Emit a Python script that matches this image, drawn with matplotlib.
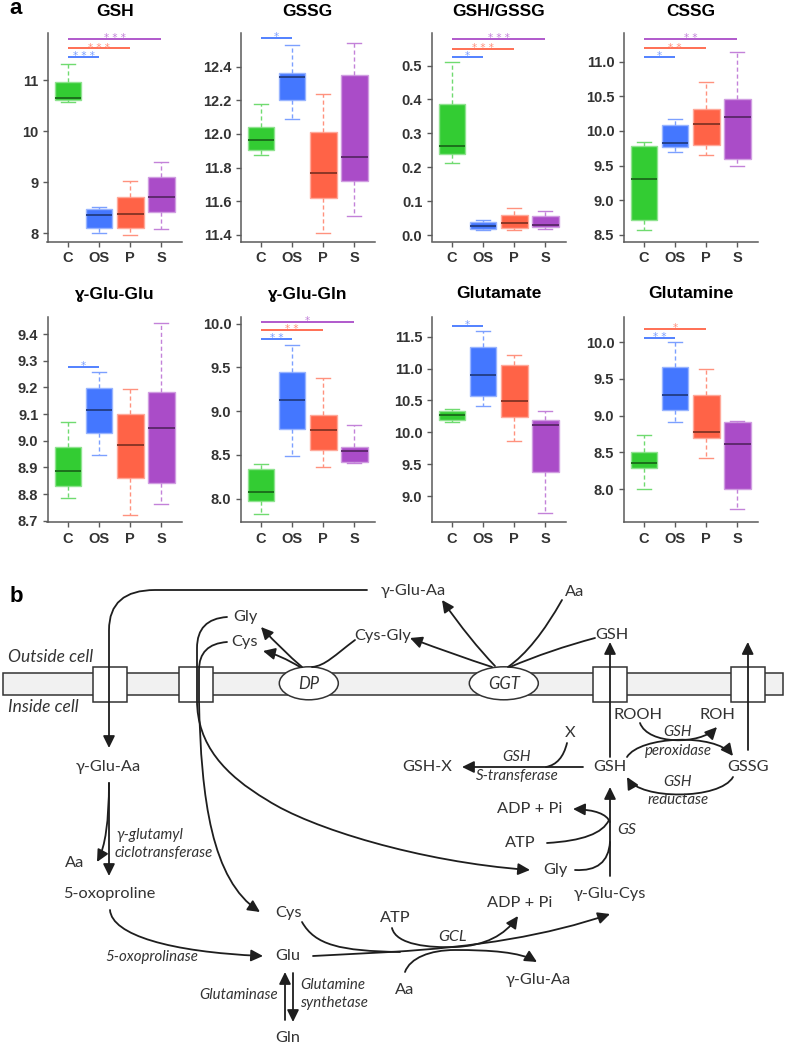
import matplotlib
matplotlib.use('Agg')
import matplotlib.pyplot as plt
import numpy as np
from matplotlib.colors import to_rgb
from matplotlib.path import Path
from matplotlib.patches import FancyArrowPatch, Ellipse, Rectangle, ArrowStyle

# ---------------- data (panel a) ----------------
panels = ['GSH', 'GSSG', 'GSH/GSSG', 'CSSG', 'ɣ-Glu-Glu', 'ɣ-Glu-Gln', 'Glutamate', 'Glutamine']
groups = ['C', 'OS', 'P', 'S']
group_colors = {'C': '#33CC33', 'OS': '#4477FF', 'P': '#FF6347', 'S': '#AA4CC8'}

whis_low = {
    'GSH': [10.57, 8.01, 7.97, 8.08],
    'GSSG': [11.875, 12.09, 11.41, 11.51],
    'GSH/GSSG': [0.2125, 0.016, 0.015, 0.019],
    'CSSG': [8.573, 9.694, 9.651, 9.501],
    'ɣ-Glu-Glu': [8.786, 8.948, 8.721, 8.762],
    'ɣ-Glu-Gln': [7.825, 8.49, 8.365, 8.403],
    'Glutamate': [10.16, 10.406, 9.86, 8.74],
    'Glutamine': [8.0, 8.919, 8.42, 7.724]}
q1 = {
    'GSH': [10.60, 8.11, 8.10, 8.41],
    'GSSG': [11.907, 12.20, 11.62, 11.72],
    'GSH/GSSG': [0.238, 0.019, 0.021, 0.024],
    'CSSG': [8.713, 9.767, 9.796, 9.598],
    'ɣ-Glu-Glu': [8.83, 9.028, 8.86, 8.84],
    'ɣ-Glu-Gln': [7.973, 8.80, 8.559, 8.414],
    'Glutamate': [10.20, 10.568, 10.234, 9.38],
    'Glutamine': [8.29, 9.077, 8.697, 8.0]}
median = {
    'GSH': [10.64, 8.35, 8.37, 8.71],
    'GSSG': [11.966, 12.34, 11.77, 11.86],
    'GSH/GSSG': [0.262, 0.027, 0.036, 0.030],
    'CSSG': [9.303, 9.82, 10.105, 10.207],
    'ɣ-Glu-Glu': [8.887, 9.116, 8.984, 9.046],
    'ɣ-Glu-Gln': [8.076, 9.133, 8.783, 8.548],
    'Glutamate': [10.27, 10.90, 10.495, 10.12],
    'Glutamine': [8.357, 9.28, 8.778, 8.62]}
q3 = {
    'GSH': [10.97, 8.47, 8.71, 9.11],
    'GSSG': [12.04, 12.36, 12.01, 12.35],
    'GSH/GSSG': [0.386, 0.039, 0.059, 0.057],
    'CSSG': [9.777, 10.081, 10.323, 10.463],
    'ɣ-Glu-Glu': [8.977, 9.198, 9.099, 9.183],
    'ɣ-Glu-Gln': [8.335, 9.445, 8.954, 8.589],
    'Glutamate': [10.33, 11.33, 11.047, 10.19],
    'Glutamine': [8.507, 9.66, 9.276, 8.91]}
whis_high = {
    'GSH': [11.31, 8.52, 9.02, 9.39],
    'GSSG': [12.18, 12.53, 12.235, 12.54],
    'GSH/GSSG': [0.511, 0.045, 0.079, 0.071],
    'CSSG': [9.835, 10.178, 10.715, 11.14],
    'ɣ-Glu-Glu': [9.071, 9.259, 9.192, 9.44],
    'ɣ-Glu-Gln': [8.395, 9.753, 9.376, 8.837],
    'Glutamate': [10.36, 11.594, 11.214, 10.339],
    'Glutamine': [8.733, 10.0, 9.633, 8.932]}

y_limits = {
    'GSH': (7.84, 11.92), 'GSSG': (11.36, 12.60), 'GSH/GSSG': (-0.019, 0.596),
    'CSSG': (8.403, 11.416), 'ɣ-Glu-Glu': (8.695, 9.465), 'ɣ-Glu-Gln': (7.734, 10.08),
    'Glutamate': (8.60, 11.81), 'Glutamine': (7.552, 10.348)}
y_ticks = {
    'GSH': [8, 9, 10, 11], 'GSSG': [11.4, 11.6, 11.8, 12.0, 12.2, 12.4],
    'GSH/GSSG': [0.0, 0.1, 0.2, 0.3, 0.4, 0.5], 'CSSG': [8.5, 9.0, 9.5, 10.0, 10.5, 11.0],
    'ɣ-Glu-Glu': [8.7, 8.8, 8.9, 9.0, 9.1, 9.2, 9.3, 9.4], 'ɣ-Glu-Gln': [8.0, 8.5, 9.0, 9.5, 10.0],
    'Glutamate': [9.0, 9.5, 10.0, 10.5, 11.0, 11.5], 'Glutamine': [8.0, 8.5, 9.0, 9.5, 10.0]}
tick_fmt = {'GSH': '{:.0f}'}

# significance bars: (group compared with C, bar level, stars)
sig_bars = {
    'GSH': [('OS', 11.455, '***'), ('P', 11.617, '***'), ('S', 11.799, '***')],
    'GSSG': [('OS', 12.569, '*')],
    'GSH/GSSG': [('OS', 0.526, '*'), ('P', 0.550, '***'), ('S', 0.578, '***')],
    'CSSG': [('OS', 11.073, '*'), ('P', 11.193, '**'), ('S', 11.329, '**')],
    'ɣ-Glu-Glu': [('OS', 9.277, '*')],
    'ɣ-Glu-Gln': [('OS', 9.821, '**'), ('P', 9.928, '**'), ('S', 10.023, '*')],
    'Glutamate': [('OS', 11.667, '*')],
    'Glutamine': [('OS', 10.063, '**'), ('P', 10.186, '*')]}

# ---------------- helpers ----------------
W, H = 787, 1047
SANS = ['Liberation Sans', 'DejaVu Sans']
DIA = ['Lato', 'DejaVu Sans']


def blend(c, f):
    r = np.array(to_rgb(c))
    return tuple(r + (1 - r) * f)


def darken(c, f):
    return tuple(np.array(to_rgb(c)) * f)


fig = plt.figure(figsize=(W / 100, H / 100), dpi=100)

# full-figure axes in pixel coordinates for panel b and labels
axb = fig.add_axes([0, 0, 1, 1])
axb.set_xlim(0, W)
axb.set_ylim(H, 0)
axb.axis('off')

# ---------------- panel a ----------------
lefts = [47.5, 240.5, 431.5, 623.5]
ax_w = 134.5
row_tops = [33.0, 316.7]
row_bottoms = [241.5, 522.0]
title_y = [11.5, 294.0]
SPINE = '#5a5a5a'

for i, name in enumerate(panels):
    row, col = divmod(i, 4)
    left = lefts[col]
    top, bottom = row_tops[row], row_bottoms[row]
    ax = fig.add_axes([left / W, 1 - bottom / H, ax_w / W, (bottom - top) / H])
    ax.patch.set_alpha(0)
    for j, g in enumerate(groups):
        c = group_colors[g]
        st = dict(whislo=whis_low[name][j], q1=q1[name][j], med=median[name][j],
                  q3=q3[name][j], whishi=whis_high[name][j], fliers=[])
        ax.bxp([st], positions=[j + 1], widths=0.85, capwidths=0.45, patch_artist=True,
               showfliers=False,
               boxprops=dict(facecolor=c, edgecolor=blend(c, 0.45), linewidth=1.0),
               whiskerprops=dict(color=blend(c, 0.3), linestyle=(0, (3, 2)), linewidth=1.0),
               capprops=dict(color=blend(c, 0.3), linewidth=1.0),
               medianprops=dict(color=darken(c, 0.55), linewidth=1.4))
    ax.set_xlim(0.34, 4.66)
    ax.set_ylim(*y_limits[name])
    ax.set_xticks(range(1, 5))
    ax.set_xticklabels(groups)
    ax.set_yticks(y_ticks[name])
    fmt = tick_fmt.get(name, '{:.1f}')
    ax.set_yticklabels([fmt.format(v) for v in y_ticks[name]])
    for s in ['top', 'right']:
        ax.spines[s].set_visible(False)
    for s in ['left', 'bottom']:
        ax.spines[s].set_color(SPINE)
        ax.spines[s].set_linewidth(1.1)
    ax.tick_params(length=3.6, width=1.0, color=SPINE, labelsize=10.5, labelcolor='#333333')
    ax.tick_params(axis='x', pad=3.5)
    ax.tick_params(axis='y', pad=3)
    for lab in ax.get_xticklabels() + ax.get_yticklabels():
        lab.set_fontfamily(SANS)
        lab.set_fontweight('bold')
    for g, yv, stars in sig_bars[name]:
        k = groups.index(g) + 1
        c = group_colors[g]
        ax.plot([1, k], [yv, yv], color=c, lw=1.3, clip_on=False, solid_capstyle='butt')
        ax.annotate(' '.join(stars), xy=((1 + k) / 2, yv), xytext=(0, -1.5),
                    textcoords='offset points', ha='center', va='baseline', fontsize=7.5,
                    color=blend(c, 0.3), annotation_clip=False, family='DejaVu Sans')
    fig.text((left + ax_w / 2) / W, 1 - title_y[row] / H, name, ha='center', va='center',
             fontsize=12.5, fontweight='bold', family=SANS)

axb.text(16, 9, 'a', ha='center', va='center', fontsize=16, fontweight='bold', family=SANS)
axb.text(16.5, 596, 'b', ha='center', va='center', fontsize=16, fontweight='bold', family=SANS)

# ---------------- panel b: pathway diagram ----------------
LINE = '#1e1e1e'
TXT = '#333333'
EDGE = '#333333'

axb.add_patch(Rectangle((3, 673.3), 780.3, 21.7, fc='#F1F1F1', ec=EDGE, lw=1.1, zorder=1))
for x0 in [92.7, 179.3, 593.3, 730.7]:
    axb.add_patch(Rectangle((x0, 666.7), 34, 35, fc='white', ec=EDGE, lw=1.1, zorder=2))
axb.add_patch(Ellipse((308.8, 683.3), 59, 33, fc='white', ec=EDGE, lw=1.1, zorder=2))
axb.add_patch(Ellipse((503.8, 683.3), 69, 33, fc='white', ec=EDGE, lw=1.1, zorder=2))

M, L, C3, C4 = Path.MOVETO, Path.LINETO, Path.CURVE3, Path.CURVE4
HEAD = ArrowStyle('-|>', head_length=0.55, head_width=0.27)


def draw_path(segs, arrow=True):
    verts, codes = [], []
    for code, pts in segs:
        for p in pts:
            verts.append(p)
            codes.append(code)
    p = FancyArrowPatch(path=Path(verts, codes), arrowstyle=HEAD if arrow else '-',
                        mutation_scale=13, lw=1.3, color=LINE, shrinkA=0, shrinkB=0, zorder=3)
    axb.add_patch(p)


curves = [
    ([(M, [(367, 590)]), (L, [(155, 590)]), (C3, [(109, 590), (109, 630)]), (L, [(109, 748)])], True),
    ([(M, [(227, 617)]), (C3, [(197, 619), (197, 648)]), (L, [(197, 700)]),
      (C4, [(197, 745), (225, 775), (267, 800)]), (C4, [(310, 828), (420, 862), (530, 870)])], True),
    ([(M, [(227, 642)]), (C3, [(199, 644), (199, 670)]), (L, [(199, 700)]),
      (C4, [(201, 800), (212, 880), (260, 912)])], True),
    ([(M, [(355, 640)]), (C4, [(335, 655), (325, 666), (312, 667)])], False),
    ([(M, [(302, 667)]), (C3, [(282, 650), (261, 627)])], True),
    ([(M, [(300, 667)]), (C3, [(280, 655), (263, 651)])], True),
    ([(M, [(495, 666)]), (C3, [(470, 640), (442, 600)])], True),
    ([(M, [(492, 667)]), (C3, [(455, 655), (410, 638)])], True),
    ([(M, [(562, 600)]), (C3, [(535, 648), (508, 667)])], False),
    ([(M, [(595, 638)]), (C3, [(550, 650), (510, 667)])], False),
    ([(M, [(610, 757)]), (L, [(610, 642)])], True),
    ([(M, [(747.7, 750)]), (L, [(747.7, 642)])], True),
    ([(M, [(640, 723)]), (C4, [(648, 745), (700, 745), (717, 727)])], True),
    ([(M, [(627, 757)]), (C4, [(640, 736), (715, 733), (733, 756)])], True),
    ([(M, [(733, 777)]), (C4, [(720, 800), (640, 800), (627, 777)])], True),
    ([(M, [(583, 767)]), (L, [(462, 767)])], True),
    ([(M, [(567, 743)]), (C3, [(562, 764), (546, 767)])], False),
    ([(M, [(610, 876)]), (L, [(610, 787)])], True),
    ([(M, [(610, 822)]), (C3, [(605, 810), (573, 809)])], True),
    ([(M, [(547, 843)]), (C3, [(600, 840), (609, 820)])], False),
    ([(M, [(575, 870)]), (C3, [(608, 872), (610, 842)])], False),
    ([(M, [(313, 956)]), (L, [(390, 952)]), (C3, [(520, 945), (610, 914)])], True),
    ([(M, [(302, 922)]), (C4, [(315, 945), (340, 951), (400, 952)])], False),
    ([(M, [(392, 928)]), (C4, [(396, 945), (430, 948), (455, 947)]),
      (C4, [(485, 946), (505, 935), (518, 916)])], True),
    ([(M, [(405, 972)]), (C4, [(410, 958), (430, 950), (455, 950)]),
      (C4, [(490, 950), (520, 952), (537, 962)])], True),
    ([(M, [(109, 783)]), (L, [(109, 876)])], True),
    ([(M, [(109, 783)]), (C3, [(109, 840), (97, 862)])], True),
    ([(M, [(110, 910)]), (C4, [(112, 935), (170, 952), (263, 956)])], True),
    ([(M, [(285, 1020)]), (L, [(285, 972)])], True),
    ([(M, [(293, 973)]), (L, [(293, 1022)])], True),
]
for segs, arrow in curves:
    draw_path(segs, arrow)

# (text, x, y, style, ha, size)
labels = [
    ('Outside cell', 8, 657, 'italic', 'left', 12.5), ('Inside cell', 8, 707, 'italic', 'left', 12.5),
    ('γ-Glu-Aa', 413, 591, 'normal', 'center', 11.8), ('Gly', 245, 617, 'normal', 'center', 11.8),
    ('Cys', 245, 642, 'normal', 'center', 11.8), ('Cys-Gly', 383, 636, 'normal', 'center', 11.8),
    ('Aa', 575, 592, 'normal', 'center', 11.8), ('GSH', 612, 635, 'normal', 'center', 11.8),
    ('DP', 309, 684, 'italic', 'center', 12), ('GGT', 504, 684, 'italic', 'center', 12),
    ('γ-Glu-Aa', 108, 767, 'normal', 'center', 11.8),
    ('γ-glutamyl', 116, 835, 'italic', 'left', 10.8),
    ('ciclotransferase', 115, 853, 'italic', 'left', 10.8),
    ('Aa', 75, 863, 'normal', 'center', 11.8), ('5-oxoproline', 109, 894, 'normal', 'center', 11.8),
    ('5-oxoprolinase', 152, 957, 'italic', 'center', 10.8),
    ('Cys', 288, 913, 'normal', 'center', 11.8), ('Glu', 288, 956, 'normal', 'center', 11.8),
    ('Gln', 288, 1038, 'normal', 'center', 11.8),
    ('Glutaminase', 278, 995, 'italic', 'right', 10.8),
    ('Glutamine', 300, 985, 'italic', 'left', 10.8),
    ('synthetase', 300, 1003, 'italic', 'left', 10.8),
    ('ATP', 395, 918, 'normal', 'center', 11.8), ('GCL', 452, 937, 'italic', 'center', 11.5),
    ('Aa', 405, 990, 'normal', 'center', 11.8), ('ADP + Pi', 520, 903, 'normal', 'center', 11.8),
    ('γ-Glu-Aa', 538, 980, 'normal', 'center', 11.8), ('γ-Glu-Cys', 610, 894, 'normal', 'center', 11.8),
    ('Gly', 555, 870, 'normal', 'center', 11.8), ('ATP', 520, 843, 'normal', 'center', 11.8),
    ('ADP + Pi', 530, 809, 'normal', 'center', 11.8), ('GS', 627, 830, 'italic', 'center', 11.5),
    ('GSH', 610, 767, 'normal', 'center', 11.8), ('GSSG', 748, 767, 'normal', 'center', 11.8),
    ('GSH-X', 427, 767, 'normal', 'center', 11.8), ('X', 570, 733, 'normal', 'center', 11.8),
    ('GSH', 517, 757, 'italic', 'center', 10.8), ('S-transferase', 517, 776, 'italic', 'center', 10.8),
    ('ROOH', 638, 715, 'normal', 'center', 11.8), ('ROH', 717, 715, 'normal', 'center', 11.8),
    ('GSH', 678, 732, 'italic', 'center', 10.8), ('peroxidase', 678, 751, 'italic', 'center', 10.8),
    ('GSH', 678, 782, 'italic', 'center', 10.8), ('reductase', 678, 800, 'italic', 'center', 10.8),
]
for s, x, y, style, ha, size in labels:
    axb.text(x, y, s, ha=ha, va='center', fontsize=size, style=style, color=TXT,
             family=DIA, zorder=4)

fig.savefig('out.png', dpi=100)
